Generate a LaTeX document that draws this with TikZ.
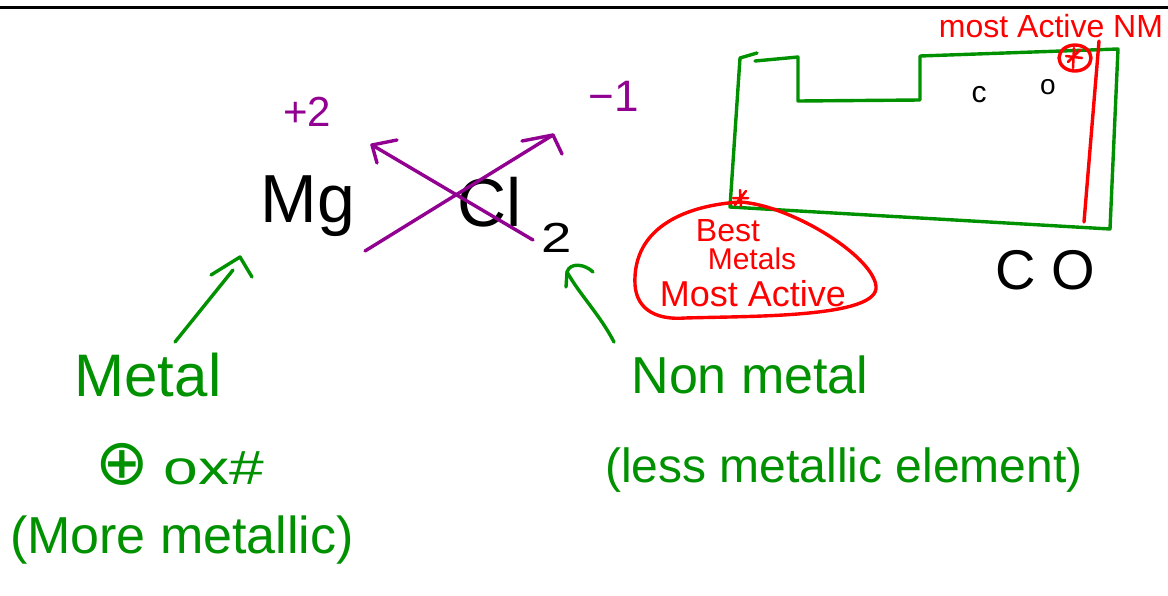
\documentclass[tikz,border=0pt]{standalone}
\usepackage{fontspec}
\setmainfont{Liberation Sans}
\newfontfamily\symfont{DejaVu Sans}
\begin{document}
\begin{tikzpicture}[x=1pt,y=-1pt,
  pen/.style={line width=3.4pt,line cap=round,line join=round},
  gpen/.style={pen,draw=inkgreen},
  rpen/.style={pen,draw=inkred},
  ppen/.style={pen,draw=inkpurple},
  txt/.style={inner sep=0pt,anchor=center},
  gtxt/.style={txt,text=inkgreen},
  rtxt/.style={txt,text=inkred},
  ptxt/.style={txt,text=inkpurple}]
\definecolor{inkgreen}{RGB}{0,145,0}
\definecolor{inkred}{RGB}{255,0,0}
\definecolor{inkpurple}{RGB}{145,0,145}
\useasboundingbox (0,0) rectangle (1168,595);
\fill[white] (0,0) rectangle (1168,595);
% top rule
\draw[line width=3pt,black] (0,7) -- (1168,7);

% formula
\node[txt] (mg) at (308,206) {\fontsize{68}{68}\selectfont Mg};
\node[txt] (cl) at (490,202) {\fontsize{68}{68}\selectfont Cl};
\node[txt] (two) at (557,238) {\scalebox{1.3}[1]{\fontsize{42}{42}\selectfont 2}};
\node[ptxt] (p2) at (307,112) {\fontsize{42}{42}\selectfont +2};
\node[ptxt] (m1) at (614,96) {\fontsize{44}{44}\selectfont −1};

% purple crossing arrows
\coordinate (xa1) at (365,251);
\coordinate (xa2) at (553,135);
\coordinate (xb1) at (533,240);
\coordinate (xb2) at (372,145);
\draw[ppen] (xa1) -- (xa2);
\draw[ppen] (522,141) -- (xa2) -- (562,154);
\draw[ppen] (xb1) -- (xb2);
\draw[ppen] (397,140) -- (xb2) -- (377,163);

% green labels
\node[gtxt] (metal) at (148,375) {\fontsize{60}{60}\selectfont Metal};
\node[gtxt] (ox) at (180,464) {\fontsize{48}{48}\selectfont {\symfont\fontsize{64}{64}\selectfont ⊕}\hspace{14pt}\scalebox{1.3}[1]{ox\#}};
\node[gtxt] (more) at (182,540) {\fontsize{52}{52}\selectfont (More metallic)};
\node[gtxt] (non) at (750,375) {\fontsize{52}{52}\selectfont Non metal};
\node[gtxt] (less) at (844,470) {\fontsize{48}{48}\selectfont (less metallic element)};

% green arrows
\coordinate (ga1) at (240,257);
\draw[gpen] (175,342) -- (233,270);
\draw[gpen] (211,275) -- (ga1) -- (252,277);
\coordinate (ga2) at (567,272);
\draw[gpen] (614,342) .. controls (600,315) and (580,295) .. (ga2);
\draw[gpen] (566,287) -- (ga2) .. controls (570,262) and (585,264) .. (593,272);

% periodic table outline
\draw[gpen] (757,53) -- (740,58) -- (730,207) -- (1110,229) -- (1118,49) -- (920,56) -- (920,100) -- (798,101) -- (798,57) -- (755,61);
\node[txt] (c1) at (979,95) {\fontsize{30}{30}\selectfont c};
\node[txt] (o1) at (1048,87) {\fontsize{28}{28}\selectfont o};

% red marks on table
\draw[rpen] (1099,41) -- (1084,222);
\draw[rpen] (1075,58) ellipse [x radius=16, y radius=13];
\draw[rpen,line width=2.5pt] (1066,56) -- (1082,58) (1074,48) -- (1073,68) (1068,62) -- (1080,50);
\node[rtxt] (mostnm) at (1051,26) {\fontsize{32}{32}\selectfont most Active NM};

% red blob
\draw[rpen,line width=2.5pt] (733,198) -- (748,198) (740,190) -- (741,206) (735,205) -- (746,191);
\draw[rpen] (740,202) .. controls (690,205) and (632,225) .. (635,285)
  .. controls (637,312) and (660,320) .. (685,318)
  .. controls (750,316) and (880,318) .. (876,286)
  .. controls (872,255) and (790,205) .. (740,202);
\node[rtxt] (best) at (728,231) {\fontsize{32}{32}\selectfont Best};
\node[rtxt] (metals) at (752,259) {\fontsize{30}{30}\selectfont Metals};
\node[rtxt] (mostact) at (753,294) {\fontsize{36}{36}\selectfont Most Active};

% CO
\node[txt] (co) at (1045,270) {\fontsize{56}{56}\selectfont C O};
\end{tikzpicture}
\end{document}
